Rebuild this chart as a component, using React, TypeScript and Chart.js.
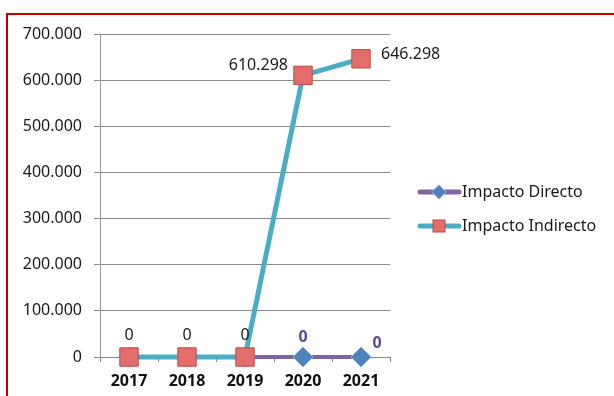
import React, { useEffect, useRef } from "react";
import { Chart, registerables } from "chart.js";

Chart.register(...registerables);

const years = ["2017", "2018", "2019", "2020", "2021"];
const impactoDirecto = [0, 0, 0, 0, 0];
const impactoIndirecto = [0, 0, 0, 610298, 646298];
const seriesNames = ["Impacto Directo", "Impacto Indirecto"];
const yMin = 0;
const yMax = 700000;
const yStep = 100000;

const FONT = "'Noto Sans', 'Open Sans', sans-serif";
const PURPLE = "#8064a2";
const CYAN = "#4bacc6";
const SQ_FILL = "#e26d6b";
const SQ_BORDER = "#be4b48";
const DIA_FILL = "#4f81bd";
const DIA_BORDER = "#8fb2dc";

const fmt = (v: number) =>
  Math.round(v).toString().replace(/\B(?=(\d{3})+(?!\d))/g, ".");

const framePlugin = {
  id: "frame",
  beforeDraw(chart: any) {
    const ctx = chart.ctx;
    ctx.save();
    ctx.fillStyle = "#fff";
    ctx.fillRect(0, 0, chart.width, chart.height);
    ctx.strokeStyle = "#c00000";
    ctx.lineWidth = 2;
    ctx.beginPath();
    ctx.moveTo(7, chart.height + 5);
    ctx.lineTo(7, 14);
    ctx.lineTo(chart.width + 5, 14);
    ctx.stroke();
    ctx.restore();
  },
};

const labelsPlugin = {
  id: "valueLabels",
  afterDatasetsDraw(chart: any) {
    const ctx = chart.ctx;
    ctx.save();
    chart.data.datasets.forEach((ds: any, di: number) => {
      const meta = chart.getDatasetMeta(di);
      meta.data.forEach((pt: any, i: number) => {
        const v = ds.data[i];
        if (v === null || v === undefined) return;
        const txt = fmt(v);
        let x = pt.x;
        let y = pt.y;
        ctx.textBaseline = "middle";
        if (di === 1) {
          ctx.font = `16px ${FONT}`;
          ctx.fillStyle = "#1a1a1a";
          if (v === 0) {
            ctx.textAlign = "center";
            y = pt.y - 22;
          } else if (i === 3) {
            ctx.textAlign = "right";
            x = pt.x - 15;
            y = pt.y - 10;
          } else {
            ctx.textAlign = "left";
            x = pt.x + 20;
            y = pt.y - 4;
          }
        } else {
          if (i < 3) return;
          ctx.font = `bold 16px ${FONT}`;
          ctx.fillStyle = "#5f4a8b";
          ctx.textAlign = "center";
          if (i === 3) {
            y = pt.y - 20;
          } else {
            x = pt.x + 16;
            y = pt.y - 14;
          }
        }
        ctx.fillText(txt, x, y);
      });
    });
    ctx.restore();
  },
};

const legendPlugin = {
  id: "customLegend",
  afterDraw(chart: any) {
    const ctx = chart.ctx;
    ctx.save();
    const items = [
      { name: seriesNames[0], color: PURPLE, y: 192, marker: "diamond" },
      { name: seriesNames[1], color: CYAN, y: 226, marker: "square" },
    ];
    items.forEach((it) => {
      ctx.strokeStyle = it.color;
      ctx.lineWidth = 5;
      ctx.lineCap = "round";
      ctx.beginPath();
      ctx.moveTo(420, it.y);
      ctx.lineTo(459, it.y);
      ctx.stroke();
      const cx = 439;
      if (it.marker === "diamond") {
        ctx.fillStyle = DIA_FILL;
        ctx.strokeStyle = DIA_BORDER;
        ctx.lineWidth = 1;
        ctx.beginPath();
        ctx.moveTo(cx, it.y - 7);
        ctx.lineTo(cx + 7, it.y);
        ctx.lineTo(cx, it.y + 7);
        ctx.lineTo(cx - 7, it.y);
        ctx.closePath();
        ctx.fill();
        ctx.stroke();
      } else {
        ctx.fillStyle = SQ_FILL;
        ctx.strokeStyle = SQ_BORDER;
        ctx.lineWidth = 1;
        ctx.fillRect(cx - 6, it.y - 6, 12, 12);
        ctx.strokeRect(cx - 6, it.y - 6, 12, 12);
      }
      ctx.font = `16px ${FONT}`;
      ctx.fillStyle = "#1a1a1a";
      ctx.textAlign = "left";
      ctx.textBaseline = "middle";
      ctx.fillText(it.name, 462, it.y);
    });
    ctx.restore();
  },
};

export default function App() {
  const ref = useRef<HTMLCanvasElement>(null);
  useEffect(() => {
    if (!ref.current) return;
    const chart = new Chart(ref.current, {
      type: "line",
      data: {
        labels: years,
        datasets: [
          {
            label: seriesNames[0],
            data: impactoDirecto,
            borderColor: PURPLE,
            borderWidth: 4,
            pointStyle: "rectRot",
            pointRadius: 10,
            pointBackgroundColor: DIA_FILL,
            pointBorderColor: DIA_BORDER,
            pointBorderWidth: 1,
            tension: 0,
            order: 1,
            clip: false,
          },
          {
            label: seriesNames[1],
            data: impactoIndirecto,
            borderColor: CYAN,
            borderWidth: 5,
            pointStyle: "rect",
            pointRadius: 13,
            pointBackgroundColor: SQ_FILL,
            pointBorderColor: SQ_BORDER,
            pointBorderWidth: 1,
            tension: 0,
            order: 0,
            clip: false,
          },
        ],
      },
      options: {
        animation: false,
        responsive: false,
        maintainAspectRatio: false,
        layout: { padding: { left: 0, top: 34, right: 224, bottom: 0 } },
        plugins: { legend: { display: false }, tooltip: { enabled: false } },
        scales: {
          x: {
            offset: true,
            grid: {
              display: true,
              drawOnChartArea: false,
              drawTicks: true,
              tickLength: 5,
              color: "#8a8a8a",
              offset: true,
            },
            border: { display: false },
            ticks: {
              color: "#111",
              font: { family: FONT, size: 16, weight: "bold" },
              padding: 10,
              maxRotation: 0,
            },
            afterFit(s: any) {
              s.height = 39;
            },
          },
          y: {
            min: yMin,
            max: yMax,
            grid: { color: "#8a8a8a", tickLength: 6 },
            border: { display: true, color: "#9a9a9a" },
            ticks: {
              stepSize: yStep,
              color: "#1a1a1a",
              font: { family: FONT, size: 16 },
              padding: 12,
              callback: (v: any) => fmt(Number(v)),
            },
            afterFit(s: any) {
              s.width = 100;
            },
          },
        },
      },
      plugins: [framePlugin, labelsPlugin, legendPlugin],
    });
    return () => chart.destroy();
  }, []);
  return (
    <div style={{ position: "fixed", left: 0, top: 0, width: 614, height: 396 }}>
      <canvas ref={ref} width={614} height={396} style={{ display: "block" }} />
    </div>
  );
}
